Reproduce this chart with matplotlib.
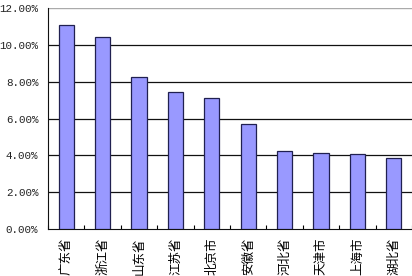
import numpy as np
import matplotlib.pyplot as plt
from matplotlib.ticker import FuncFormatter

plt.rcParams['font.family'] = ['Noto Sans CJK SC', 'DejaVu Sans']

provinces = ['广东省', '浙江省', '山东省', '江苏省', '北京市',
             '安徽省', '河北省', '天津市', '上海市', '湖北省']
shares = [11.05, 10.43, 8.25, 7.43, 7.10, 5.70, 4.23, 4.12, 4.08, 3.86]

fig = plt.figure(figsize=(4.12, 2.76), dpi=100)
ax = fig.add_axes([48 / 412, 1 - 229 / 276, 364 / 412, 221 / 276])

x = np.arange(len(provinces))
ax.bar(x, shares, width=0.42, color='#9999ff', edgecolor='#202050',
       linewidth=0.9, zorder=3)

ax.set_xlim(-0.5, len(provinces) - 0.5)
ax.set_ylim(0, 12)
ax.set_yticks(np.arange(0, 12.1, 2))
ax.yaxis.set_major_formatter(FuncFormatter(lambda v, p: '%.2f%%' % v))
for v in np.arange(2, 12, 2):
    ax.axhline(v, color='#111111', linewidth=0.9, zorder=1)
ax.axhline(12, color='#aaaaaa', linewidth=1.0, zorder=1)

# category ticks between bars, labels rotated
ax.set_xticks(np.arange(-0.5, len(provinces), 1))
ax.set_xticklabels([])
ax.set_xticks(x, minor=True)
ax.set_xticklabels(provinces, minor=True, rotation=90, fontsize=9)
ax.tick_params(axis='x', which='major', direction='in', length=3, width=0.8)
ax.tick_params(axis='x', which='minor', length=0, pad=6)
ax.tick_params(axis='y', direction='in', length=0, pad=7)
for t in ax.get_yticklabels():
    t.set_family(['Liberation Mono'])
    t.set_fontsize(7.8)
    t.set_color('#222222')

ax.spines['top'].set_visible(False)
ax.spines['right'].set_visible(False)
ax.spines['left'].set_color('#111111')
ax.spines['bottom'].set_color('#111111')

fig.savefig('out.png', dpi=100)
